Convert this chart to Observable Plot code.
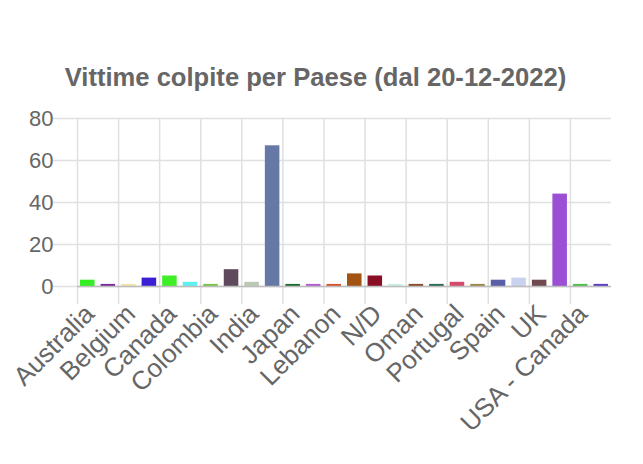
<!DOCTYPE html>
<html>
<head>
<meta charset="utf-8">
<script src="https://cdn.jsdelivr.net/npm/d3@7"></script>
<script src="https://cdn.jsdelivr.net/npm/@observablehq/plot@0.6"></script>
<style>
  html, body { margin: 0; padding: 0; background: #fff; }
  #title {
    height: 100px; box-sizing: border-box; padding-top: 65px; padding-right: 12px;
    text-align: center; font-family: "Liberation Sans", Arial, Helvetica, sans-serif;
    font-weight: bold; font-size: 25.6px; line-height: 25px; color: #666; width: 643px;
  }
</style>
</head>
<body>
<div id="title">Vittime colpite per Paese (dal 20-12-2022)</div>
<div id="chart"></div>
<script>
const categories = ["Australia","Austria","Belgium","Brazil","Canada","China","Colombia","Germany",
  "India","Italy","Japan","Kuwait","Lebanon","Mexico","N/D","Netherlands","Oman","Philippines",
  "Portugal","Saudi Arabia","Spain","Switzerland","UK","USA","USA - Canada","Ukraine"];
const values = [3,1,1,4,5,2,1,8,2,67,1,1,1,6,5,1,1,1,2,1,3,4,3,44,1,1];
const colors = ["#33ee22","#7a2a9a","#f0e4a8","#3a1fd6","#40ee28","#5ef0f0","#7ac443","#5e4a5c",
  "#b8c9b4","#6678a6","#1f6b2a","#b65ad6","#d9532e","#a35413","#8a0f24","#c7f0e0","#8a4a2e","#2a6b55",
  "#d64a6e","#9a8a4a","#5a5ea6","#c9d2ee","#704850","#9b4fd4","#4cc04a","#5a3ac4"];
const xTickLabels = ["Australia","Belgium","Canada","Colombia","India","Japan","Lebanon","N/D",
  "Oman","Portugal","Spain","UK","USA - Canada"];
const yTicks = [0,20,40,60,80];

const data = categories.map((c,i) => ({country: c, value: values[i], color: colors[i]}));

const W = 643, H = 364, mL = 77, mR = 32, mT = 18, mB = 178;
const step = (W - mL - mR) / categories.length;
const grid = "#e0e0e0";

const chart = Plot.plot({
  width: W, height: H,
  marginTop: mT, marginBottom: mB, marginLeft: mL, marginRight: mR,
  style: {fontFamily: '"Liberation Sans", Arial, Helvetica, sans-serif', background: "#fff"},
  x: {domain: categories, padding: 0, round: false, axis: null},
  y: {domain: [0, 80], axis: null},
  color: {type: "identity"},
  marks: [
    Plot.ruleY(yTicks, {y: d => d, stroke: grid, strokeWidth: 1.5, insetLeft: -24}),
    Plot.ruleX(xTickLabels, {x: d => d, dx: -step / 2, stroke: grid, strokeWidth: 1.5, insetBottom: -18}),
    Plot.barY(data, {x: "country", y: "value", fill: "color", insetLeft: 3, insetRight: 3}),
    Plot.ruleY([0], {stroke: "#bdbdbd", strokeWidth: 1.5}),
    Plot.text(yTicks, {frameAnchor: "left", y: d => d, text: d => String(d), textAnchor: "end",
      dx: -24, fontSize: 22, fill: "#666"}),
    Plot.text(xTickLabels, {x: d => d, frameAnchor: "bottom", text: d => d, rotate: -45,
      textAnchor: "end", dx: 8, dy: 29, fontSize: 26, fill: "#666"})
  ]
});
document.getElementById("chart").appendChild(chart);
</script>
</body>
</html>
